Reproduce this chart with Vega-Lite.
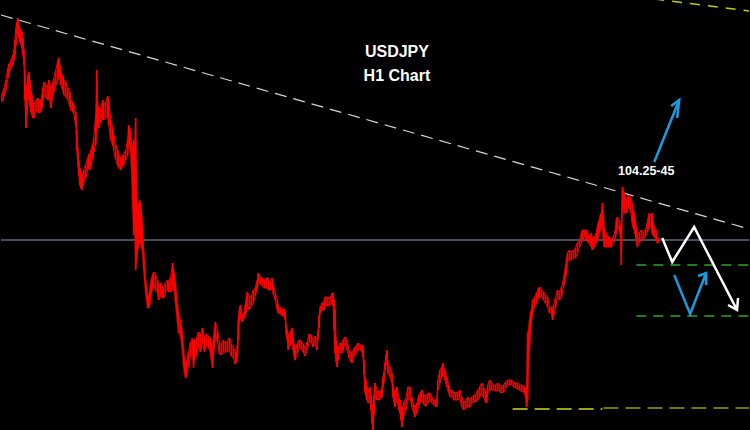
{
"$schema":"https://vega.github.io/schema/vega-lite/v6.json",
"width":750,"height":430,"padding":0,
"autosize":{"type":"fit","contains":"padding"},
"background":"#000000",
"config":{"view":{"stroke":null}},
"datasets":{
"px":[
{"t":0,"h":105.37,"l":105.30},{"t":2,"h":105.40,"l":105.32},{"t":3,"h":105.44,"l":105.36},{"t":5,"h":105.52,"l":105.42},{"t":7,"h":105.64,"l":105.54},{"t":8,"h":105.68,"l":105.58},{"t":10,"h":105.72,"l":105.64},{"t":12,"h":105.77,"l":105.67},{"t":13,"h":105.82,"l":105.72},{"t":14,"h":105.92,"l":105.77},{"t":15,"h":106.04,"l":105.87},{"t":16,"h":106.10,"l":105.97},{"t":17,"h":106.14,"l":106.02},{"t":18,"h":106.07,"l":105.94},{"t":19,"h":106.04,"l":105.90},{"t":20,"h":106.02,"l":105.88},{"t":21,"h":106.00,"l":105.84},{"t":22,"h":105.94,"l":105.77},{"t":23,"h":105.82,"l":105.67},{"t":24,"h":105.62,"l":105.32},{"t":25,"h":105.37,"l":105.04},{"t":26,"h":105.47,"l":105.17},{"t":27,"h":105.57,"l":105.32},{"t":28,"h":105.60,"l":105.37},{"t":29,"h":105.52,"l":105.27},{"t":30,"h":105.42,"l":105.20},{"t":31,"h":105.37,"l":105.17},{"t":32,"h":105.32,"l":105.14},{"t":33,"h":105.27,"l":105.14},{"t":35,"h":105.32,"l":105.20},{"t":37,"h":105.34,"l":105.22},{"t":38,"h":105.30,"l":105.19},{"t":40,"h":105.32,"l":105.20},{"t":41,"h":105.37,"l":105.24},{"t":42,"h":105.44,"l":105.30},{"t":43,"h":105.50,"l":105.36},{"t":45,"h":105.47,"l":105.34},{"t":47,"h":105.47,"l":105.32},{"t":48,"h":105.52,"l":105.37},{"t":50,"h":105.44,"l":105.24},{"t":52,"h":105.50,"l":105.36},{"t":53,"h":105.54,"l":105.40},{"t":55,"h":105.62,"l":105.47},{"t":57,"h":105.72,"l":105.52},{"t":58,"h":105.74,"l":105.60},{"t":59,"h":105.67,"l":105.54},{"t":60,"h":105.60,"l":105.47},{"t":62,"h":105.56,"l":105.42},{"t":63,"h":105.52,"l":105.37},{"t":65,"h":105.50,"l":105.35},{"t":67,"h":105.44,"l":105.32},{"t":69,"h":105.40,"l":105.26},{"t":70,"h":105.32,"l":105.22},{"t":72,"h":105.29,"l":105.20},{"t":73,"h":105.27,"l":105.18},{"t":75,"h":105.20,"l":105.06},{"t":76,"h":105.02,"l":104.82},{"t":77,"h":104.84,"l":104.67},{"t":78,"h":104.72,"l":104.57},{"t":79,"h":104.64,"l":104.47},{"t":80,"h":104.60,"l":104.44},{"t":81,"h":104.56,"l":104.42},{"t":82,"h":104.58,"l":104.46},{"t":83,"h":104.62,"l":104.50},{"t":85,"h":104.68,"l":104.54},{"t":87,"h":104.74,"l":104.62},{"t":88,"h":104.78,"l":104.66},{"t":89,"h":104.74,"l":104.62},{"t":90,"h":104.82,"l":104.66},{"t":92,"h":104.88,"l":104.74},{"t":93,"h":104.94,"l":104.80},{"t":95,"h":105.17,"l":104.87},{"t":96,"h":105.62,"l":105.02},{"t":97,"h":105.27,"l":105.07},{"t":98,"h":105.22,"l":105.04},{"t":100,"h":105.24,"l":105.10},{"t":102,"h":105.32,"l":105.14},{"t":103,"h":105.28,"l":105.12},{"t":105,"h":105.30,"l":105.14},{"t":107,"h":105.36,"l":105.16},{"t":108,"h":105.32,"l":105.07},{"t":110,"h":105.12,"l":104.92},{"t":112,"h":105.04,"l":104.87},{"t":113,"h":104.97,"l":104.82},{"t":115,"h":104.87,"l":104.72},{"t":117,"h":104.82,"l":104.67},{"t":118,"h":104.77,"l":104.64},{"t":120,"h":104.74,"l":104.62},{"t":122,"h":104.77,"l":104.66},{"t":123,"h":104.78,"l":104.67},{"t":125,"h":104.82,"l":104.72},{"t":127,"h":104.92,"l":104.77},{"t":128,"h":105.07,"l":104.92},{"t":129,"h":105.04,"l":104.87},{"t":130,"h":105.00,"l":104.82},{"t":131,"h":104.87,"l":104.62},{"t":132,"h":104.82,"l":104.32},{"t":133,"h":104.92,"l":103.97},{"t":134,"h":104.82,"l":104.12},{"t":135,"h":105.14,"l":103.62},{"t":136,"h":104.42,"l":103.72},{"t":137,"h":104.22,"l":103.82},{"t":138,"h":104.27,"l":103.87},{"t":139,"h":104.32,"l":103.92},{"t":140,"h":104.28,"l":103.89},{"t":141,"h":104.17,"l":103.84},{"t":142,"h":104.02,"l":103.80},{"t":143,"h":103.82,"l":103.64},{"t":144,"h":103.67,"l":103.52},{"t":145,"h":103.52,"l":103.40},{"t":146,"h":103.44,"l":103.32},{"t":147,"h":103.37,"l":103.24},{"t":148,"h":103.34,"l":103.24},{"t":149,"h":103.40,"l":103.27},{"t":150,"h":103.47,"l":103.34},{"t":151,"h":103.54,"l":103.40},{"t":152,"h":103.57,"l":103.44},{"t":153,"h":103.60,"l":103.47},{"t":155,"h":103.57,"l":103.42},{"t":157,"h":103.52,"l":103.39},{"t":158,"h":103.47,"l":103.32},{"t":160,"h":103.49,"l":103.36},{"t":162,"h":103.45,"l":103.34},{"t":163,"h":103.44,"l":103.34},{"t":165,"h":103.49,"l":103.40},{"t":167,"h":103.52,"l":103.42},{"t":168,"h":103.50,"l":103.40},{"t":170,"h":103.54,"l":103.40},{"t":172,"h":103.69,"l":103.42},{"t":173,"h":103.62,"l":103.47},{"t":174,"h":103.57,"l":103.42},{"t":175,"h":103.47,"l":103.29},{"t":176,"h":103.37,"l":103.20},{"t":177,"h":103.27,"l":103.10},{"t":178,"h":103.17,"l":102.99},{"t":180,"h":103.12,"l":102.97},{"t":181,"h":103.04,"l":102.90},{"t":182,"h":102.96,"l":102.82},{"t":183,"h":102.82,"l":102.67},{"t":184,"h":102.74,"l":102.60},{"t":185,"h":102.67,"l":102.54},{"t":186,"h":102.70,"l":102.56},{"t":188,"h":102.80,"l":102.66},{"t":190,"h":102.90,"l":102.76},{"t":192,"h":102.94,"l":102.80},{"t":193,"h":102.87,"l":102.64},{"t":194,"h":102.92,"l":102.72},{"t":196,"h":102.94,"l":102.76},{"t":198,"h":103.00,"l":102.86},{"t":200,"h":102.97,"l":102.80},{"t":202,"h":103.04,"l":102.90},{"t":204,"h":102.94,"l":102.80},{"t":206,"h":102.98,"l":102.86},{"t":208,"h":102.96,"l":102.84},{"t":210,"h":102.94,"l":102.80},{"t":211,"h":102.87,"l":102.72},{"t":212,"h":102.82,"l":102.64},{"t":213,"h":102.92,"l":102.77},{"t":214,"h":103.02,"l":102.87},{"t":215,"h":103.10,"l":102.97},{"t":217,"h":103.02,"l":102.90},{"t":219,"h":102.90,"l":102.78},{"t":221,"h":102.88,"l":102.77},{"t":223,"h":102.92,"l":102.80},{"t":225,"h":102.90,"l":102.80},{"t":227,"h":102.90,"l":102.80},{"t":229,"h":102.94,"l":102.82},{"t":231,"h":102.88,"l":102.76},{"t":233,"h":102.84,"l":102.74},{"t":235,"h":102.80,"l":102.68},{"t":236,"h":102.78,"l":102.70},{"t":237,"h":102.87,"l":102.74},{"t":238,"h":103.12,"l":102.92},{"t":239,"h":103.22,"l":103.10},{"t":240,"h":103.27,"l":103.14},{"t":242,"h":103.17,"l":103.10},{"t":244,"h":103.20,"l":103.14},{"t":245,"h":103.27,"l":103.17},{"t":246,"h":103.34,"l":103.20},{"t":247,"h":103.40,"l":103.26},{"t":249,"h":103.36,"l":103.22},{"t":251,"h":103.36,"l":103.26},{"t":253,"h":103.42,"l":103.29},{"t":255,"h":103.44,"l":103.36},{"t":256,"h":103.48,"l":103.40},{"t":257,"h":103.52,"l":103.44},{"t":258,"h":103.59,"l":103.50},{"t":260,"h":103.55,"l":103.48},{"t":262,"h":103.54,"l":103.46},{"t":264,"h":103.52,"l":103.44},{"t":266,"h":103.54,"l":103.44},{"t":268,"h":103.54,"l":103.42},{"t":270,"h":103.50,"l":103.42},{"t":272,"h":103.54,"l":103.46},{"t":273,"h":103.47,"l":103.38},{"t":275,"h":103.39,"l":103.32},{"t":277,"h":103.32,"l":103.22},{"t":278,"h":103.27,"l":103.19},{"t":280,"h":103.24,"l":103.18},{"t":282,"h":103.23,"l":103.16},{"t":284,"h":103.23,"l":103.16},{"t":285,"h":103.20,"l":103.12},{"t":286,"h":103.07,"l":102.97},{"t":287,"h":103.02,"l":102.92},{"t":288,"h":102.96,"l":102.82},{"t":290,"h":103.00,"l":102.87},{"t":292,"h":103.04,"l":102.90},{"t":293,"h":102.94,"l":102.82},{"t":294,"h":102.87,"l":102.76},{"t":295,"h":102.82,"l":102.72},{"t":297,"h":102.88,"l":102.78},{"t":299,"h":102.92,"l":102.84},{"t":301,"h":102.91,"l":102.83},{"t":303,"h":102.88,"l":102.80},{"t":305,"h":102.84,"l":102.76},{"t":307,"h":102.90,"l":102.82},{"t":309,"h":102.98,"l":102.90},{"t":311,"h":102.97,"l":102.90},{"t":313,"h":102.92,"l":102.85},{"t":315,"h":102.96,"l":102.88},{"t":317,"h":102.92,"l":102.82},{"t":318,"h":103.02,"l":102.94},{"t":319,"h":103.17,"l":103.04},{"t":320,"h":103.25,"l":103.19},{"t":322,"h":103.29,"l":103.22},{"t":324,"h":103.30,"l":103.22},{"t":325,"h":103.35,"l":103.29},{"t":327,"h":103.35,"l":103.26},{"t":329,"h":103.34,"l":103.26},{"t":331,"h":103.36,"l":103.28},{"t":332,"h":103.39,"l":103.29},{"t":333,"h":103.39,"l":103.26},{"t":334,"h":103.32,"l":103.02},{"t":335,"h":103.22,"l":102.79},{"t":336,"h":102.92,"l":102.70},{"t":337,"h":102.79,"l":102.65},{"t":338,"h":102.85,"l":102.72},{"t":340,"h":102.89,"l":102.79},{"t":342,"h":102.85,"l":102.79},{"t":343,"h":102.92,"l":102.82},{"t":345,"h":102.95,"l":102.89},{"t":347,"h":102.92,"l":102.82},{"t":349,"h":102.82,"l":102.74},{"t":351,"h":102.80,"l":102.70},{"t":352,"h":102.79,"l":102.69},{"t":354,"h":102.84,"l":102.76},{"t":356,"h":102.86,"l":102.79},{"t":358,"h":102.89,"l":102.82},{"t":360,"h":102.87,"l":102.82},{"t":362,"h":102.87,"l":102.80},{"t":363,"h":102.85,"l":102.75},{"t":364,"h":102.72,"l":102.57},{"t":365,"h":102.55,"l":102.39},{"t":366,"h":102.52,"l":102.36},{"t":367,"h":102.45,"l":102.32},{"t":368,"h":102.42,"l":102.29},{"t":370,"h":102.45,"l":102.32},{"t":371,"h":102.37,"l":102.22},{"t":372,"h":102.25,"l":102.09},{"t":373,"h":102.27,"l":102.02},{"t":374,"h":102.37,"l":102.17},{"t":375,"h":102.49,"l":102.37},{"t":377,"h":102.42,"l":102.32},{"t":379,"h":102.40,"l":102.32},{"t":381,"h":102.42,"l":102.34},{"t":382,"h":102.45,"l":102.35},{"t":383,"h":102.55,"l":102.45},{"t":384,"h":102.60,"l":102.50},{"t":385,"h":102.69,"l":102.62},{"t":386,"h":102.77,"l":102.67},{"t":387,"h":102.82,"l":102.70},{"t":388,"h":102.69,"l":102.59},{"t":390,"h":102.65,"l":102.55},{"t":392,"h":102.59,"l":102.49},{"t":393,"h":102.49,"l":102.35},{"t":394,"h":102.42,"l":102.30},{"t":395,"h":102.39,"l":102.25},{"t":397,"h":102.45,"l":102.32},{"t":399,"h":102.34,"l":102.22},{"t":400,"h":102.32,"l":102.19},{"t":401,"h":102.27,"l":102.12},{"t":402,"h":102.22,"l":102.05},{"t":403,"h":102.25,"l":102.12},{"t":404,"h":102.30,"l":102.17},{"t":406,"h":102.34,"l":102.22},{"t":408,"h":102.45,"l":102.32},{"t":410,"h":102.45,"l":102.35},{"t":412,"h":102.35,"l":102.25},{"t":414,"h":102.27,"l":102.19},{"t":415,"h":102.25,"l":102.15},{"t":417,"h":102.29,"l":102.19},{"t":419,"h":102.37,"l":102.27},{"t":421,"h":102.40,"l":102.30},{"t":422,"h":102.42,"l":102.32},{"t":424,"h":102.37,"l":102.27},{"t":426,"h":102.36,"l":102.26},{"t":428,"h":102.39,"l":102.29},{"t":430,"h":102.39,"l":102.32},{"t":432,"h":102.35,"l":102.29},{"t":434,"h":102.32,"l":102.27},{"t":436,"h":102.32,"l":102.25},{"t":437,"h":102.34,"l":102.27},{"t":438,"h":102.52,"l":102.42},{"t":440,"h":102.62,"l":102.49},{"t":442,"h":102.65,"l":102.55},{"t":443,"h":102.69,"l":102.59},{"t":445,"h":102.62,"l":102.52},{"t":447,"h":102.55,"l":102.45},{"t":449,"h":102.47,"l":102.39},{"t":450,"h":102.42,"l":102.35},{"t":452,"h":102.42,"l":102.35},{"t":454,"h":102.40,"l":102.32},{"t":456,"h":102.39,"l":102.32},{"t":458,"h":102.40,"l":102.32},{"t":460,"h":102.42,"l":102.34},{"t":462,"h":102.35,"l":102.25},{"t":464,"h":102.30,"l":102.22},{"t":466,"h":102.31,"l":102.24},{"t":468,"h":102.35,"l":102.25},{"t":470,"h":102.32,"l":102.25},{"t":472,"h":102.35,"l":102.29},{"t":474,"h":102.37,"l":102.30},{"t":476,"h":102.37,"l":102.30},{"t":478,"h":102.42,"l":102.32},{"t":480,"h":102.45,"l":102.35},{"t":482,"h":102.49,"l":102.39},{"t":484,"h":102.44,"l":102.34},{"t":486,"h":102.40,"l":102.30},{"t":487,"h":102.39,"l":102.29},{"t":488,"h":102.47,"l":102.39},{"t":490,"h":102.52,"l":102.42},{"t":492,"h":102.49,"l":102.42},{"t":494,"h":102.47,"l":102.42},{"t":496,"h":102.47,"l":102.41},{"t":498,"h":102.49,"l":102.42},{"t":500,"h":102.47,"l":102.40},{"t":502,"h":102.45,"l":102.39},{"t":504,"h":102.47,"l":102.40},{"t":506,"h":102.50,"l":102.44},{"t":508,"h":102.52,"l":102.47},{"t":510,"h":102.52,"l":102.47},{"t":512,"h":102.52,"l":102.47},{"t":514,"h":102.50,"l":102.45},{"t":516,"h":102.49,"l":102.44},{"t":518,"h":102.49,"l":102.43},{"t":520,"h":102.47,"l":102.42},{"t":522,"h":102.47,"l":102.40},{"t":524,"h":102.46,"l":102.40},{"t":525,"h":102.45,"l":102.40},{"t":526,"h":102.44,"l":102.34},{"t":527,"h":102.42,"l":102.25},{"t":528,"h":102.99,"l":102.32},{"t":529,"h":103.02,"l":102.72},{"t":530,"h":103.12,"l":102.85},{"t":531,"h":103.20,"l":103.02},{"t":532,"h":103.22,"l":103.12},{"t":533,"h":103.32,"l":103.19},{"t":535,"h":103.35,"l":103.25},{"t":537,"h":103.39,"l":103.29},{"t":539,"h":103.44,"l":103.34},{"t":540,"h":103.45,"l":103.35},{"t":542,"h":103.42,"l":103.35},{"t":544,"h":103.40,"l":103.32},{"t":546,"h":103.37,"l":103.29},{"t":548,"h":103.35,"l":103.25},{"t":550,"h":103.25,"l":103.19},{"t":552,"h":103.25,"l":103.19},{"t":553,"h":103.22,"l":103.12},{"t":554,"h":103.27,"l":103.16},{"t":556,"h":103.34,"l":103.24},{"t":558,"h":103.42,"l":103.35},{"t":560,"h":103.39,"l":103.32},{"t":562,"h":103.45,"l":103.35},{"t":564,"h":103.52,"l":103.45},{"t":565,"h":103.59,"l":103.49},{"t":566,"h":103.65,"l":103.55},{"t":567,"h":103.72,"l":103.59},{"t":568,"h":103.79,"l":103.72},{"t":570,"h":103.82,"l":103.72},{"t":572,"h":103.79,"l":103.72},{"t":574,"h":103.82,"l":103.74},{"t":576,"h":103.84,"l":103.74},{"t":578,"h":103.89,"l":103.79},{"t":580,"h":103.92,"l":103.85},{"t":582,"h":103.99,"l":103.89},{"t":583,"h":104.02,"l":103.92},{"t":585,"h":104.02,"l":103.95},{"t":587,"h":104.02,"l":103.92},{"t":589,"h":103.97,"l":103.89},{"t":591,"h":103.95,"l":103.87},{"t":592,"h":103.99,"l":103.85},{"t":593,"h":103.92,"l":103.82},{"t":595,"h":103.95,"l":103.85},{"t":597,"h":103.99,"l":103.89},{"t":598,"h":104.05,"l":103.92},{"t":599,"h":104.09,"l":103.95},{"t":600,"h":104.12,"l":103.99},{"t":601,"h":104.17,"l":104.02},{"t":602,"h":104.19,"l":104.05},{"t":603,"h":104.29,"l":104.12},{"t":604,"h":104.17,"l":103.92},{"t":605,"h":104.02,"l":103.85},{"t":607,"h":103.99,"l":103.85},{"t":609,"h":103.95,"l":103.85},{"t":611,"h":103.94,"l":103.85},{"t":612,"h":103.92,"l":103.85},{"t":614,"h":103.95,"l":103.89},{"t":616,"h":104.02,"l":103.92},{"t":617,"h":104.12,"l":103.99},{"t":618,"h":104.15,"l":104.05},{"t":620,"h":104.12,"l":104.02},{"t":621,"h":104.07,"l":103.97},{"t":622,"h":104.05,"l":103.67},{"t":623,"h":104.45,"l":104.22},{"t":624,"h":104.42,"l":104.27},{"t":625,"h":104.39,"l":104.19},{"t":627,"h":104.32,"l":104.19},{"t":629,"h":104.37,"l":104.25},{"t":631,"h":104.35,"l":104.22},{"t":633,"h":104.29,"l":104.09},{"t":634,"h":104.22,"l":104.04},{"t":635,"h":104.19,"l":104.02},{"t":636,"h":104.12,"l":103.97},{"t":637,"h":104.05,"l":103.92},{"t":638,"h":103.99,"l":103.85},{"t":640,"h":103.99,"l":103.89},{"t":642,"h":104.02,"l":103.92},{"t":644,"h":104.00,"l":103.92},{"t":646,"h":104.02,"l":103.95},{"t":648,"h":104.09,"l":103.99},{"t":649,"h":104.14,"l":104.02},{"t":650,"h":104.19,"l":104.05},{"t":652,"h":104.15,"l":104.05},{"t":653,"h":104.19,"l":103.99},{"t":654,"h":104.10,"l":103.97},{"t":655,"h":104.05,"l":103.95},{"t":657,"h":104.02,"l":103.92},{"t":658,"h":103.95,"l":103.89},{"t":659,"h":103.94,"l":103.89}
],
"trend":[{"t":0,"p":106.17},{"t":750,"p":104.03}],
"ytop":[{"t":655,"p":106.33},{"t":750,"p":106.21}],
"white":[
{"g":"a","i":1,"t":663,"p":103.94},{"g":"a","i":2,"t":673,"p":103.70},{"g":"a","i":3,"t":695,"p":104.05},{"g":"a","i":4,"t":738,"p":103.22},
{"g":"b","i":1,"t":729,"p":103.27},{"g":"b","i":2,"t":738,"p":103.22},{"g":"b","i":3,"t":739,"p":103.34}
],
"blue":[
{"g":"a","i":1,"t":655,"p":104.70},{"g":"a","i":2,"t":680,"p":105.32},
{"g":"b","i":1,"t":672,"p":105.26},{"g":"b","i":2,"t":680,"p":105.32},{"g":"b","i":3,"t":678,"p":105.14},
{"g":"c","i":1,"t":675,"p":103.57},{"g":"c","i":2,"t":691,"p":103.18},{"g":"c","i":3,"t":707,"p":103.59},
{"g":"d","i":1,"t":699,"p":103.56},{"g":"d","i":2,"t":707,"p":103.59},{"g":"d","i":3,"t":707,"p":103.47}
]
},
"layer":[
{"data":{"values":[{"p":103.92}]},"mark":{"type":"rule","color":"#5d6877","strokeWidth":1.5},
 "encoding":{"y":{"field":"p","type":"quantitative","scale":{"domain":[102.02,106.32],"nice":false,"zero":false},"axis":null}}},
{"data":{"name":"trend"},"mark":{"type":"line","color":"#d8d8d8","strokeWidth":1.2,"strokeDash":[12,7],"clip":true},
 "encoding":{"x":{"field":"t","type":"quantitative","scale":{"domain":[0,750],"nice":false,"zero":false},"axis":null},
  "y":{"field":"p","type":"quantitative","scale":{"domain":[102.02,106.32],"nice":false,"zero":false},"axis":null}}},
{"data":{"name":"ytop"},"mark":{"type":"line","color":"#c8c800","strokeWidth":1.5,"strokeDash":[10,8],"clip":true},
 "encoding":{"x":{"field":"t","type":"quantitative","scale":{"domain":[0,750],"nice":false,"zero":false},"axis":null},
  "y":{"field":"p","type":"quantitative","scale":{"domain":[102.02,106.32],"nice":false,"zero":false},"axis":null}}},
{"data":{"values":[{"t0":637,"t1":750,"p":103.67},{"t0":637,"t1":750,"p":103.16}]},"mark":{"type":"rule","color":"#1f7d1f","strokeWidth":2,"strokeDash":[10,7]},
 "encoding":{"x":{"field":"t0","type":"quantitative","scale":{"domain":[0,750],"nice":false,"zero":false},"axis":null},"x2":{"field":"t1"},
  "y":{"field":"p","type":"quantitative","scale":{"domain":[102.02,106.32],"nice":false,"zero":false},"axis":null}}},
{"data":{"values":[{"t0":513,"t1":603,"p":102.23}]},"mark":{"type":"rule","color":"#d6d620","strokeWidth":1.5,"strokeDash":[15,7]},
 "encoding":{"x":{"field":"t0","type":"quantitative","scale":{"domain":[0,750],"nice":false,"zero":false},"axis":null},"x2":{"field":"t1"},
  "y":{"field":"p","type":"quantitative","scale":{"domain":[102.02,106.32],"nice":false,"zero":false},"axis":null}}},
{"data":{"values":[{"t0":604,"t1":750,"p":102.24}]},"mark":{"type":"rule","color":"#9c9c10","strokeWidth":1.5,"strokeDash":[15,7]},
 "encoding":{"x":{"field":"t0","type":"quantitative","scale":{"domain":[0,750],"nice":false,"zero":false},"axis":null},"x2":{"field":"t1"},
  "y":{"field":"p","type":"quantitative","scale":{"domain":[102.02,106.32],"nice":false,"zero":false},"axis":null}}},
{"data":{"name":"px"},"mark":{"type":"line","color":"#ff0000","strokeWidth":1,"clip":true},
 "encoding":{"x":{"field":"t","type":"quantitative","scale":{"domain":[0,750],"nice":false,"zero":false},"axis":null},
  "y":{"field":"h","type":"quantitative","scale":{"domain":[102.02,106.32],"nice":false,"zero":false},"axis":null}}},
{"data":{"name":"px"},"mark":{"type":"line","color":"#ff0000","strokeWidth":1,"clip":true},
 "encoding":{"x":{"field":"t","type":"quantitative","scale":{"domain":[0,750],"nice":false,"zero":false},"axis":null},
  "y":{"field":"l","type":"quantitative","scale":{"domain":[102.02,106.32],"nice":false,"zero":false},"axis":null}}},
{"data":{"name":"px"},"mark":{"type":"rule","color":"#ff0000","strokeWidth":1.6,"clip":true},
 "encoding":{"x":{"field":"t","type":"quantitative","scale":{"domain":[0,750],"nice":false,"zero":false},"axis":null},
  "y":{"field":"h","type":"quantitative","scale":{"domain":[102.02,106.32],"nice":false,"zero":false},"axis":null},"y2":{"field":"l"}}},
{"data":{"name":"white"},"mark":{"type":"line","color":"#ffffff","strokeWidth":2.5},
 "encoding":{"x":{"field":"t","type":"quantitative","scale":{"domain":[0,750],"nice":false,"zero":false},"axis":null},
  "y":{"field":"p","type":"quantitative","scale":{"domain":[102.02,106.32],"nice":false,"zero":false},"axis":null},
  "detail":{"field":"g"},"order":{"field":"i","type":"quantitative"}}},
{"data":{"name":"blue"},"mark":{"type":"line","color":"#1a9ce0","strokeWidth":2.5},
 "encoding":{"x":{"field":"t","type":"quantitative","scale":{"domain":[0,750],"nice":false,"zero":false},"axis":null},
  "y":{"field":"p","type":"quantitative","scale":{"domain":[102.02,106.32],"nice":false,"zero":false},"axis":null},
  "detail":{"field":"g"},"order":{"field":"i","type":"quantitative"}}},
{"data":{"values":[{"t":397,"p":105.80,"s":"USDJPY"},{"t":397,"p":105.56,"s":"H1 Chart"}]},
 "mark":{"type":"text","color":"#ffffff","font":"Liberation Sans","fontWeight":"bold","fontSize":16,"align":"center","baseline":"middle"},
 "encoding":{"x":{"field":"t","type":"quantitative","scale":{"domain":[0,750],"nice":false,"zero":false},"axis":null},
  "y":{"field":"p","type":"quantitative","scale":{"domain":[102.02,106.32],"nice":false,"zero":false},"axis":null},"text":{"field":"s"}}},
{"data":{"values":[{"t":647,"p":104.61,"s":"104.25-45"}]},
 "mark":{"type":"text","color":"#ffffff","font":"Liberation Sans","fontWeight":"bold","fontSize":12.5,"align":"center","baseline":"middle"},
 "encoding":{"x":{"field":"t","type":"quantitative","scale":{"domain":[0,750],"nice":false,"zero":false},"axis":null},
  "y":{"field":"p","type":"quantitative","scale":{"domain":[102.02,106.32],"nice":false,"zero":false},"axis":null},"text":{"field":"s"}}}
]
}
